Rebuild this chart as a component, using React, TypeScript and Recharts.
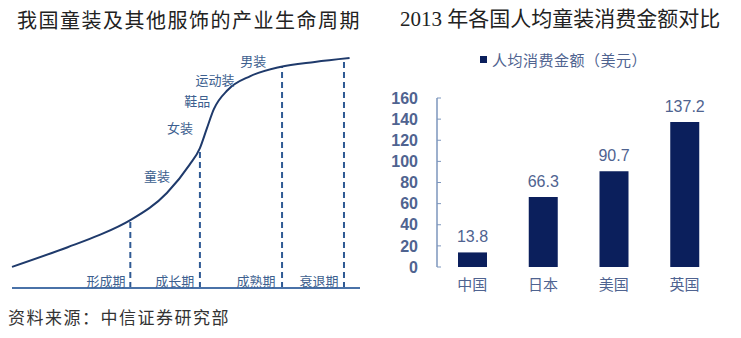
import {
  ComposedChart,
  Line,
  Scatter,
  XAxis,
  YAxis,
  ReferenceLine,
  BarChart,
  Bar,
  LabelList,
  Legend,
} from "recharts";

// left panel: lifecycle curve (time 0-100, level 0-100)
const curveX = [0, 16, 25, 34, 44.5, 51, 54, 56, 58, 62, 68.5, 77, 87, 97];
const curveY = [8.8, 17, 22, 28.3, 39.6, 51.3, 58.3, 66.5, 74.5, 82.5, 88.3, 92.1, 94.2, 95.8];

const stageX = [34, 54, 77.6, 95.4];
const stageTop = [28.3, 58.3, 92.1, 95.8];

const apparelNames = ["童装", "女装", "鞋品", "运动装", "男装"];
const apparelX = [41.7, 48.3, 53.2, 58.3, 69.3];
const apparelY = [46.7, 67, 78, 87, 95];

const phaseNames = ["形成期", "成长期", "成熟期", "衰退期"];
const phaseX = [27, 46.8, 70.1, 88.2];
const phaseY = [3.3, 3.3, 3.3, 3.3];

// right panel: spending per child, USD
const countries = ["中国", "日本", "美国", "英国"];
const spending = [13.8, 66.3, 90.7, 137.2];
const yTicks = [0, 20, 40, 60, 80, 100, 120, 140, 160];
const gapTicks = [1, 2, 3, 4];

const NAVY = "#0b1f5c";
const GREYBLUE = "#4f6390";
const CURVE_LABEL = "#3d5f8f";

const curveData = curveX.map((x, i) => ({ x, y: curveY[i] }));
const apparelData = apparelNames.map((name, i) => ({ name, x: apparelX[i], y: apparelY[i] }));
const phaseData = phaseNames.map((name, i) => ({ name, x: phaseX[i], y: phaseY[i] }));
const barData = countries.map((name, i) => ({ name, value: spending[i], idx: i + 0.5 }));

const textShape = (props: any) => (
  <text
    x={props.cx}
    y={props.cy}
    textAnchor="middle"
    dominantBaseline="central"
    fontSize={13}
    fill={CURVE_LABEL}
    fontFamily="'Noto Sans CJK SC', sans-serif"
  >
    {props.payload.name}
  </text>
);

function LegendBox() {
  return (
    <div
      style={{
        display: "flex",
        alignItems: "center",
        gap: 5,
        fontSize: 15,
        letterSpacing: 0.5,
        color: GREYBLUE,
        fontFamily: "'Noto Sans CJK SC', sans-serif",
        lineHeight: 1,
        whiteSpace: "nowrap",
      }}
    >
      <span style={{ width: 7, height: 7, background: NAVY, display: "inline-block" }} />
      人均消费金额（美元）
    </div>
  );
}

export default function App() {
  const cjk = "'Noto Sans CJK SC', sans-serif";
  return (
    <div
      style={{
        position: "absolute",
        left: 0,
        top: 0,
        width: 741,
        height: 338,
        background: "#fff",
        overflow: "hidden",
      }}
    >
      {/* titles */}
      <div
        style={{
          position: "absolute",
          left: 17,
          top: 9,
          width: 345,
          fontSize: 20,
          letterSpacing: 1.5,
          lineHeight: 1.1,
          color: "#222",
          fontFamily: cjk,
          whiteSpace: "nowrap",
        }}
      >
        我国童装及其他服饰的产业生命周期
      </div>
      <div
        style={{
          position: "absolute",
          left: 400,
          top: 8,
          width: 335,
          fontSize: 21,
          lineHeight: 1.1,
          color: "#222",
          fontFamily: "'Liberation Serif', 'Noto Sans CJK SC', serif",
          whiteSpace: "nowrap",
        }}
      >
        2013 年各国人均童装消费金额对比
      </div>

      {/* left: lifecycle diagram */}
      <div style={{ position: "absolute", left: 0, top: 0 }}>
        <ComposedChart
          width={370}
          height={338}
          data={curveData}
          margin={{ top: 48, right: 10, left: 12, bottom: 50 }}
        >
          <XAxis dataKey="x" type="number" domain={[0, 100]} hide />
          <YAxis type="number" domain={[0, 100]} hide />
          {stageX.map((x, i) => (
            <ReferenceLine
              key={x}
              segment={[
                { x, y: 0 },
                { x, y: stageTop[i] },
              ]}
              stroke="#2f5a94"
              strokeWidth={2}
              strokeDasharray="6 4"
            />
          ))}
          <ReferenceLine y={0} stroke="#4a72a8" strokeWidth={2} />
          <Line
            type="monotone"
            dataKey="y"
            stroke="#1f3a6b"
            strokeWidth={2}
            dot={false}
            isAnimationActive={false}
          />
          <Scatter data={apparelData} dataKey="y" shape={textShape} isAnimationActive={false} />
          <Scatter data={phaseData} dataKey="y" shape={textShape} isAnimationActive={false} />
        </ComposedChart>
      </div>

      {/* right: bar chart */}
      <div style={{ position: "absolute", left: 380, top: 0 }}>
        <BarChart
          width={361}
          height={338}
          data={barData}
          margin={{ top: 83, right: 21, left: 0, bottom: 51 }}
        >
          <Legend
            verticalAlign="top"
            content={() => <LegendBox />}
            wrapperStyle={{ position: "absolute", left: 100, top: 52, width: "auto" }}
          />
          <XAxis
            xAxisId="gaps"
            dataKey="idx"
            type="number"
            domain={[0, 4]}
            ticks={gapTicks}
            height={0}
            tick={() => <g />}
            tickSize={3}
            tickLine={{ stroke: "#7d96bd" }}
            axisLine={{ stroke: "#7d96bd", strokeWidth: 1.5 }}
          />
          <XAxis
            dataKey="name"
            height={20}
            axisLine={false}
            tickLine={false}
            tickMargin={6}
            tick={{ fill: GREYBLUE, fontSize: 15, fontFamily: cjk }}
            interval={0}
          />
          <YAxis
            width={57}
            domain={[0, 160]}
            ticks={yTicks}
            interval={0}
            tickSize={-4}
            tickMargin={23}
            tickLine={{ stroke: "#7d96bd" }}
            axisLine={{ stroke: "#7d96bd", strokeWidth: 1.5 }}
            tick={{
              fill: GREYBLUE,
              fontSize: 16,
              fontWeight: "bold",
              fontFamily: "'Liberation Sans', Arial, sans-serif",
            }}
          />
          <Bar dataKey="value" fill={NAVY} barSize={29} isAnimationActive={false}>
            <LabelList
              dataKey="value"
              position="top"
              offset={10}
              fill={GREYBLUE}
              fontSize={16}
              fontFamily="'Liberation Sans', Arial, sans-serif"
            />
          </Bar>
        </BarChart>
      </div>

      {/* source */}
      <div
        style={{
          position: "absolute",
          left: 8,
          top: 308,
          fontSize: 17,
          letterSpacing: 1.5,
          lineHeight: 1.1,
          color: "#333",
          fontFamily: cjk,
          whiteSpace: "nowrap",
        }}
      >
        资料来源：中信证券研究部
      </div>
    </div>
  );
}
